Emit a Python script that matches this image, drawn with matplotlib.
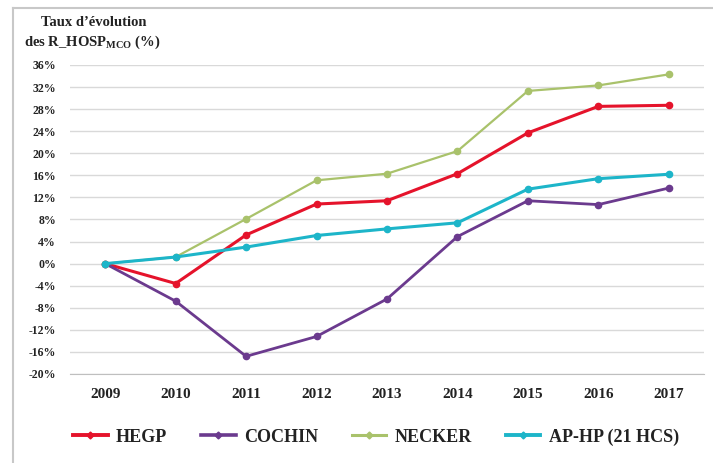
import matplotlib
matplotlib.use("Agg")
import matplotlib.pyplot as plt
from matplotlib.lines import Line2D
from matplotlib.ticker import FuncFormatter, MultipleLocator

plt.rcParams['font.family'] = ['Liberation Serif', 'DejaVu Serif']
plt.rcParams['mathtext.fontset'] = 'custom'
plt.rcParams['mathtext.rm'] = 'Liberation Serif:bold'
plt.rcParams['mathtext.bf'] = 'Liberation Serif:bold'

years = ["2009", "2010", "2011", "2012", "2013", "2014", "2015", "2016", "2017"]
hegp = [0.0, -3.6, 5.2, 10.8, 11.4, 16.3, 23.7, 28.5, 28.7]
cochin = [0.0, -6.8, -16.8, -13.2, -6.4, 4.9, 11.4, 10.7, 13.7]
necker = [0.0, 1.2, 8.1, 15.1, 16.3, 20.4, 31.3, 32.3, 34.3]
aphp = [0.0, 1.2, 3.0, 5.1, 6.3, 7.4, 13.5, 15.4, 16.2]
series_names = ["HEGP", "COCHIN", "NECKER", "AP-HP (21 HCS)"]
colors = ["#e5132b", "#6b3a8e", "#a9c26b", "#1db5c9"]

W, H = 713, 463
fig = plt.figure(figsize=(W / 100, H / 100), dpi=100)

# outer frame (top and left edges only visible)
fig.add_artist(Line2D([13 / W, 1.0], [1 - 8 / H, 1 - 8 / H], transform=fig.transFigure,
                      color="#c8c8c8", lw=1.5))
fig.add_artist(Line2D([13 / W, 13 / W], [0.0, 1 - 8 / H], transform=fig.transFigure,
                      color="#c8c8c8", lw=1.5))

ax = fig.add_axes([70 / W, 1 - 374 / H, 634 / W, (374 - 65) / H])
x = list(range(len(years)))
handles = []
for vals, name, c, lw in zip([hegp, cochin, necker, aphp], series_names, colors,
                             [2.2, 2.0, 1.6, 2.2]):
    h, = ax.plot(x, vals, color=c, lw=lw, marker="o", markersize=4.5, label=name)
    handles.append(Line2D([], [], color=c, lw=lw + 0.6, marker="D", markersize=3.5))

ax.set_xlim(-0.5, 8.5)
ax.set_ylim(-20, 36)
ax.yaxis.set_major_locator(MultipleLocator(4))
ax.yaxis.set_major_formatter(FuncFormatter(lambda v, p: f"{v:.0f}%"))
ax.set_xticks(x)
ax.set_xticklabels(years)
ax.grid(axis="y", color="#d9d9d9", lw=1.0)
ax.set_axisbelow(True)
for s in ["top", "right", "left"]:
    ax.spines[s].set_visible(False)
ax.spines["bottom"].set_color("#bfbfbf")
ax.tick_params(axis="both", length=0)
ax.tick_params(axis="y", labelsize=8.5, pad=10)
ax.tick_params(axis="x", labelsize=11, pad=10)
for lab in ax.get_yticklabels() + ax.get_xticklabels():
    lab.set_fontweight("bold")
    lab.set_color("#222222")

fig.text(94 / W, 1 - 22 / H, "Taux d\u2019évolution", ha="center", va="center",
         fontsize=10.5, fontweight="bold", color="#222222")
fig.text(92 / W, 1 - 42 / H, r"des R_HOSP$_{\mathrm{MCO}}$ (%)", ha="center",
         va="center", fontsize=10.5, fontweight="bold", color="#222222")

leg = fig.legend(handles, series_names, loc="center", bbox_to_anchor=(376 / W, 1 - 437 / H),
                 ncol=4, frameon=False, prop={"weight": "bold", "size": 13},
                 handlelength=1.9, handletextpad=0.45, columnspacing=1.9)
for t in leg.get_texts():
    t.set_color("#222222")

fig.savefig("out.png", dpi=100)
